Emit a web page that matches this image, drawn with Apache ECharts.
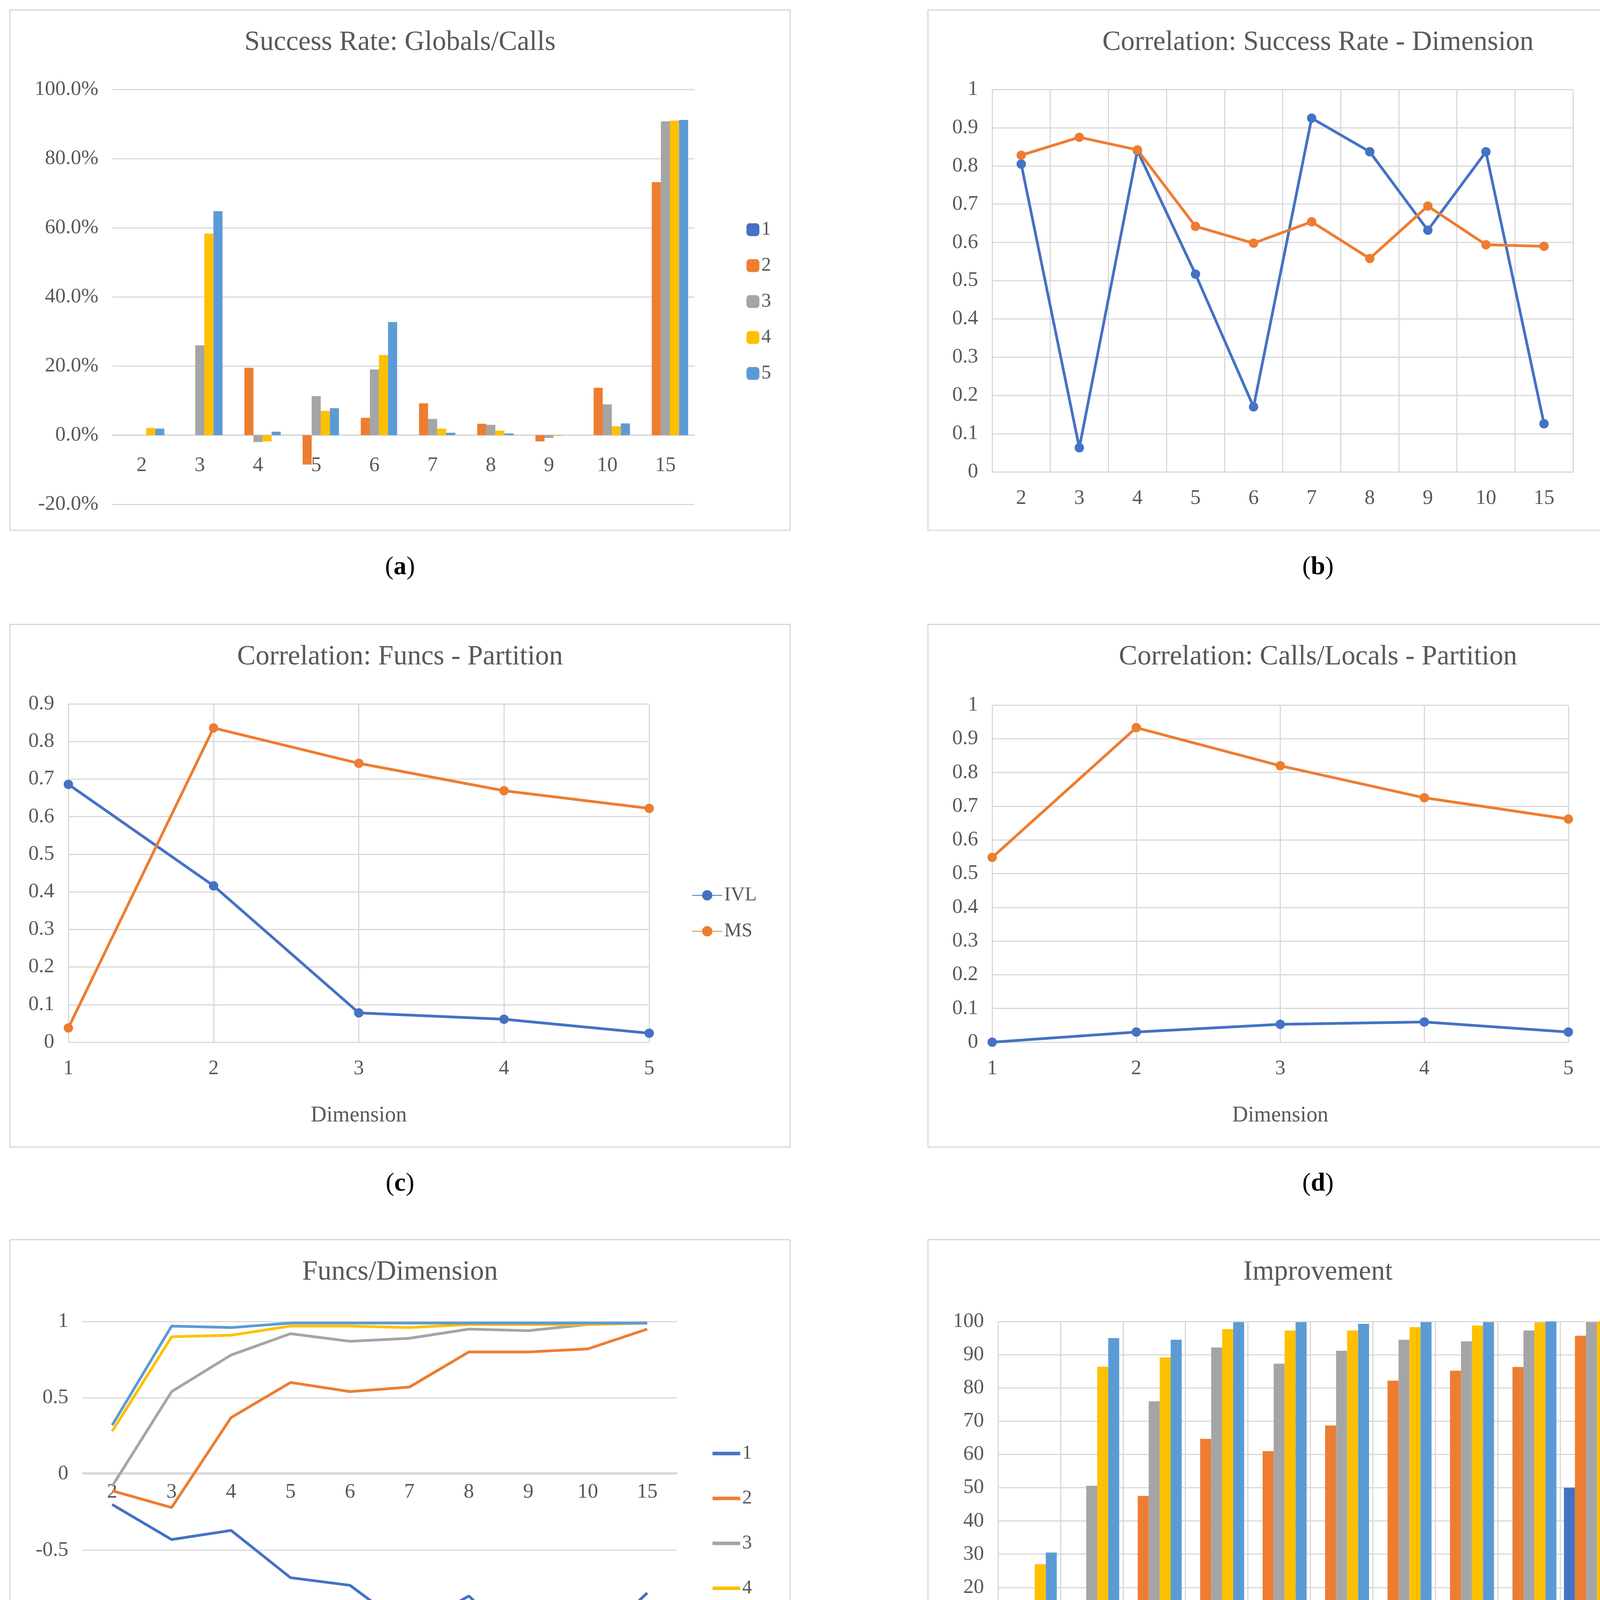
<!DOCTYPE html>
<html>
<head>
<meta charset="utf-8">
<title>Panels</title>
<script src="https://cdn.jsdelivr.net/npm/echarts@6/dist/echarts.min.js"></script>
<style>
  body { margin: 0; background: #fff; width: 4404px; height: 4659px; position: relative; overflow: hidden; font-family: "Liberation Serif", serif; }
  .box { position: absolute; border: 3px solid #d9d9d9; box-sizing: border-box; }
  .cap { position: absolute; font-size: 66px; color: #000; text-align: center; }
</style>
</head>
<body>
<script type="text/javascript">
    var s = 4404 / 1484;            // display px -> page px
    function S(v) { return Math.round(v * s); }

    var COLORS = ['#4472C4', '#ED7D31', '#A5A5A5', '#FFC000', '#5B9BD5'];
    var FONT = 'Liberation Serif';
    var TXT = '#595959';

    // (a) success rate, percent
    var catsA = ['2', '3', '4', '5', '6', '7', '8', '9', '10', '15'];
    var a1 = [0, 0, 0, 0, 0, 0, 0, 0, 0, 0];
    var a2 = [0, 0, 19.5, -8.5, 5.0, 9.2, 3.3, -1.8, 13.7, 73.2];
    var a3 = [0, 26.0, -2.0, 11.3, 19.0, 4.7, 3.0, -0.8, 8.9, 90.8];
    var a4 = [2.1, 58.3, -1.8, 7.0, 23.2, 1.9, 1.3, -0.2, 2.6, 91.0];
    var a5 = [1.9, 64.8, 1.0, 7.8, 32.7, 0.7, 0.5, 0, 3.4, 91.2];

    // (b) correlation by dimension
    var catsB = ['2', '3', '4', '5', '6', '7', '8', '9', '10', '15'];
    var bIVL = [0.805, 0.063, 0.840, 0.517, 0.170, 0.925, 0.837, 0.632, 0.837, 0.126];
    var bMS = [0.828, 0.875, 0.842, 0.642, 0.598, 0.654, 0.558, 0.695, 0.594, 0.590];

    // (c) funcs - partition
    var catsC = ['1', '2', '3', '4', '5'];
    var cIVL = [0.686, 0.416, 0.078, 0.061, 0.024];
    var cMS = [0.038, 0.836, 0.742, 0.669, 0.622];

    // (d) calls/locals - partition
    var dIVL = [0.0, 0.030, 0.053, 0.060, 0.030];
    var dMS = [0.548, 0.933, 0.820, 0.725, 0.662];

    // (e) funcs/dimension
    var catsE = ['2', '3', '4', '5', '6', '7', '8', '9', '10', '15'];
    var e1 = [-0.20, -0.43, -0.37, -0.68, -0.73, -1.02, -0.80, -1.17, -1.15, -0.78];
    var e2 = [-0.11, -0.22, 0.37, 0.60, 0.54, 0.57, 0.80, 0.80, 0.82, 0.95];
    var e3 = [-0.08, 0.54, 0.78, 0.92, 0.87, 0.89, 0.95, 0.94, 0.98, 0.99];
    var e4 = [0.28, 0.90, 0.91, 0.97, 0.97, 0.96, 0.98, 0.98, 0.98, 0.99];
    var e5 = [0.32, 0.97, 0.96, 0.99, 0.99, 0.99, 0.99, 0.99, 0.99, 0.99];

    // (f) improvement
    var catsF = ['2', '3', '4', '5', '6', '7', '8', '9', '10', '15'];
    var f1 = [0, 0, 0, 0, 0, 0, 0, 0, 0, 50];
    var f2 = [0, 0, 47.5, 64.7, 61.0, 68.7, 82.2, 85.2, 86.3, 95.7];
    var f3 = [0, 50.6, 76.0, 92.2, 87.3, 91.2, 94.5, 94.0, 97.3, 99.8];
    var f4 = [27.0, 86.4, 89.2, 97.7, 97.3, 97.3, 98.3, 98.8, 99.7, 100];
    var f5 = [30.5, 95.0, 94.5, 99.8, 99.8, 99.3, 99.8, 99.8, 100, 100];

    function makeBox(l, t, w, h) {
        var d = document.createElement('div');
        d.className = 'box';
        d.style.left = S(l) + 'px'; d.style.top = S(t) + 'px';
        d.style.width = S(w) + 'px'; d.style.height = S(h) + 'px';
        document.body.appendChild(d);
        return echarts.init(d);
    }
    function addCaption(letter, cx, y) {
        var c = document.createElement('div');
        c.className = 'cap';
        c.style.left = S(cx - 60) + 'px'; c.style.width = S(120) + 'px';
        c.style.top = S(y - 13) + 'px';
        c.innerHTML = '(<b>' + letter + '</b>)';
        document.body.appendChild(c);
    }
    function title(text) {
        return { text: text, left: 'center', top: S(14),
                 textStyle: { fontFamily: FONT, fontWeight: 'normal', fontSize: S(24), color: TXT } };
    }
    function legend(names, left, top, isLine) {
        return { orient: 'vertical', left: S(left), top: S(top), itemGap: S(14),
                 itemWidth: S(isLine ? 26 : 11), itemHeight: S(isLine ? 11 : 11),
                 textStyle: { fontFamily: FONT, fontSize: S(17), color: TXT },
                 data: names };
    }
    function catAxis(cats, gap, vgrid) {
        return { type: 'category', data: cats, boundaryGap: gap,
                 axisLine: { onZero: false, lineStyle: { color: '#d9d9d9', width: S(1) } },
                 axisTick: { show: false },
                 axisLabel: { fontFamily: FONT, fontSize: S(18), color: TXT, margin: S(14) },
                 splitLine: { show: vgrid, lineStyle: { color: '#d9d9d9', width: S(1) } } };
    }
    function valAxis(min, max, interval, fmt) {
        return { type: 'value', min: min, max: max, interval: interval,
                 axisLine: { show: false }, axisTick: { show: false },
                 axisLabel: { fontFamily: FONT, fontSize: S(18), color: TXT, margin: S(12), formatter: fmt },
                 splitLine: { lineStyle: { color: '#d9d9d9', width: S(1) } } };
    }
    function bars(list, names, catGap) {
        return list.map(function (d, i) {
            return { name: names[i], type: 'bar', data: d, barGap: '0%', barCategoryGap: catGap,
                     itemStyle: { color: COLORS[i] } };
        });
    }
    function lines(list, names, colors, marker) {
        return list.map(function (d, i) {
            return { name: names[i], type: 'line', data: d, symbol: marker ? 'circle' : 'none',
                     symbolSize: S(8), showSymbol: marker,
                     lineStyle: { color: colors[i], width: S(2.5) },
                     itemStyle: { color: colors[i] } };
        });
    }
    var numNames = ['1', '2', '3', '4', '5'];
    var fmt1 = function (v) { return Math.round(v * 10) / 10 + ''; };
    var nameStyle = { fontFamily: FONT, fontSize: S(19), color: TXT };

    // (a) x axis sits on the 0% line: grid height 360, zero 1/6 up from bottom
    var ca = makeBox(8, 8, 674, 450);
    var xa = catAxis(catsA, true, false);
    xa.offset = -S(360 / 6);
    xa.axisLabel.margin = S(18);
    ca.setOption({
        title: title('Success Rate: Globals/Calls'),
        legend: legend(numNames, 633, 179, false),
        grid: { left: S(88), right: S(82), top: S(68), bottom: S(22) },
        xAxis: xa,
        yAxis: valAxis(-20, 100, 20, function (v) { return v.toFixed(1) + '%'; }),
        series: bars([a1, a2, a3, a4, a5], numNames, '22%')
    });

    // (b)
    var cb = makeBox(800, 8, 674, 450);
    cb.setOption({
        title: title('Correlation: Success Rate - Dimension'),
        legend: legend(['IVL', 'MS'], 586, 223, true),
        grid: { left: S(55), right: S(116), top: S(68), bottom: S(50) },
        xAxis: catAxis(catsB, true, true),
        yAxis: valAxis(0, 1, 0.1, fmt1),
        series: lines([bIVL, bMS], ['IVL', 'MS'], [COLORS[0], COLORS[1]], true)
    });

    // (c)
    var cc = makeBox(8, 538, 674, 452);
    var xc = catAxis(catsC, false, true);
    xc.name = 'Dimension'; xc.nameLocation = 'middle'; xc.nameGap = S(54);
    xc.nameTextStyle = nameStyle;
    cc.setOption({
        title: title('Correlation: Funcs - Partition'),
        legend: legend(['IVL', 'MS'], 586, 223, true),
        grid: { left: S(50), right: S(121), top: S(68), bottom: S(90) },
        xAxis: xc,
        yAxis: valAxis(0, 0.9, 0.1, fmt1),
        series: lines([cIVL, cMS], ['IVL', 'MS'], [COLORS[0], COLORS[1]], true)
    });

    // (d)
    var cd = makeBox(800, 538, 674, 452);
    var xd = catAxis(catsC, false, true);
    xd.name = 'Dimension'; xd.nameLocation = 'middle'; xd.nameGap = S(54);
    xd.nameTextStyle = nameStyle;
    cd.setOption({
        title: title('Correlation: Calls/Locals - Partition'),
        legend: legend(['IVL', 'MS'], 586, 223, true),
        grid: { left: S(55), right: S(120), top: S(69), bottom: S(90) },
        xAxis: xd,
        yAxis: valAxis(0, 1, 0.1, fmt1),
        series: lines([dIVL, dMS], ['IVL', 'MS'], [COLORS[0], COLORS[1]], true)
    });

    // (e) x axis on the 0 line: grid height 331, zero 1.5/2.5 up from bottom
    var ce = makeBox(8, 1069, 674, 453);
    var xe = catAxis(catsE, true, false);
    xe.offset = -S(331 * 0.6);
    xe.axisLabel.margin = S(8);
    var legE = legend(numNames, 604, 174, true);
    legE.icon = 'rect'; legE.itemHeight = S(3); legE.itemWidth = S(24); legE.itemGap = S(22);
    ce.setOption({
        title: title('Funcs/Dimension'),
        legend: legE,
        grid: { left: S(62), right: S(97), top: S(70), bottom: S(52) },
        xAxis: xe,
        yAxis: valAxis(-1.5, 1, 0.5, function (v) { return v + ''; }),
        graphic: [{ type: 'text', left: S(282), top: S(406),
                    style: { text: 'Partition', font: S(19) + 'px "' + FONT + '"', fill: TXT } }],
        series: lines([e1, e2, e3, e4, e5], numNames, COLORS, false)
    });

    // (f)
    var cf = makeBox(800, 1069, 674, 453);
    var xf = catAxis(catsF, true, true);
    xf.name = 'Partition'; xf.nameLocation = 'middle'; xf.nameGap = S(56);
    xf.nameTextStyle = nameStyle;
    xf.axisLabel.margin = S(18);
    var yf = valAxis(0, 100, 10, function (v) { return v + ''; });
    yf.axisLabel.margin = S(12);
    cf.setOption({
        title: title('Improvement'),
        legend: legend(numNames, 632, 174, false),
        grid: { left: S(60), right: S(73), top: S(70), bottom: S(94) },
        xAxis: xf,
        yAxis: yf,
        series: bars([f1, f2, f3, f4, f5], numNames, '12%')
    });

    addCaption('a', 345, 488); addCaption('b', 1137, 488);
    addCaption('c', 345, 1020); addCaption('d', 1137, 1020);
    addCaption('e', 345, 1552); addCaption('f', 1137, 1552);
</script>
</body>
</html>
